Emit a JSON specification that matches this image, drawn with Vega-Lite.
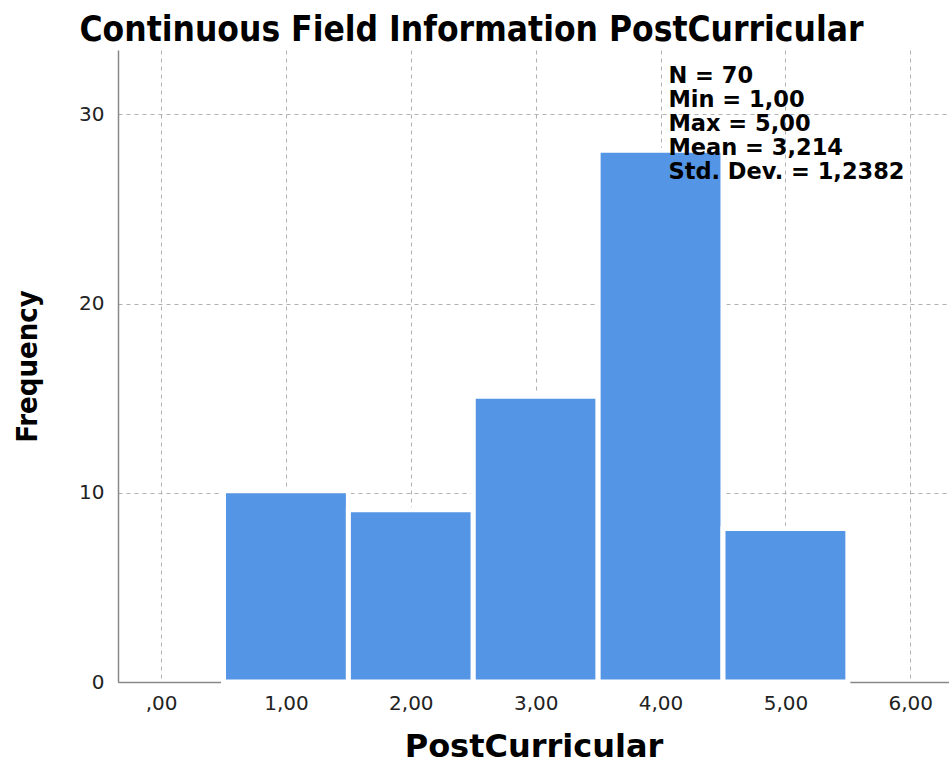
{
  "$schema": "https://vega.github.io/schema/vega-lite/v6.json",
  "autosize": "none",
  "padding": {"left": 118, "top": 50, "right": 0, "bottom": 84},
  "width": 831,
  "height": 632,
  "background": "white",
  "title": {
    "text": "Continuous Field Information PostCurricular",
    "font": "DejaVu Sans Condensed",
    "fontWeight": "bold",
    "fontSize": 35,
    "color": "#000000",
    "anchor": "middle",
    "frame": "group",
    "offset": 2,
    "dx": -62
  },
  "config": {
    "view": {"stroke": null},
    "axis": {
      "labelFont": "DejaVu Sans",
      "labelFontSize": 20,
      "labelColor": "#222222",
      "titleFont": "DejaVu Sans",
      "titleFontWeight": "bold",
      "titleColor": "#000000",
      "domainColor": "#888888",
      "domainWidth": 1.5,
      "ticks": false,
      "gridColor": "#b0b0b0",
      "gridDash": [4, 4],
      "gridWidth": 1
    }
  },
  "layer": [
    {
      "data": {
        "values": [
          {"bin_start": 0.5, "bin_end": 1.5, "count": 10},
          {"bin_start": 1.5, "bin_end": 2.5, "count": 9},
          {"bin_start": 2.5, "bin_end": 3.5, "count": 15},
          {"bin_start": 3.5, "bin_end": 4.5, "count": 28},
          {"bin_start": 4.5, "bin_end": 5.5, "count": 8}
        ]
      },
      "mark": {"type": "rect", "color": "#5595E5", "stroke": "white", "strokeWidth": 5, "yOffset": -2, "y2Offset": 1},
      "encoding": {
        "x": {
          "field": "bin_start",
          "type": "quantitative",
          "scale": {"domain": [-0.345, 6.31], "nice": false, "zero": false},
          "axis": {
            "values": [0, 1, 2, 3, 4, 5, 6],
            "labelExpr": "datum.value == 0 ? ',00' : replace(format(datum.value, '.2f'), '.', ',')",
            "labelPadding": 11,
            "title": "PostCurricular",
            "titleFontSize": 32,
            "titlePadding": 18,
            "grid": true
          }
        },
        "x2": {"field": "bin_end"},
        "y": {
          "field": "count",
          "type": "quantitative",
          "scale": {"domain": [0, 33.4], "nice": false},
          "axis": {
            "values": [0, 10, 20, 30],
            "labelPadding": 14,
            "title": "Frequency",
            "titleFont": "DejaVu Sans Condensed",
            "titleFontSize": 29,
            "titlePadding": 36,
            "grid": true
          }
        }
      }
    },
    {
      "data": {"values": [{"label": "N = 70\nMin = 1,00\nMax = 5,00\nMean = 3,214\nStd. Dev. = 1,2382"}]},
      "mark": {
        "type": "text",
        "align": "left",
        "baseline": "top",
        "font": "DejaVu Sans",
        "fontWeight": "bold",
        "fontSize": 22.5,
        "lineHeight": 24,
        "lineBreak": "\n",
        "color": "#000000"
      },
      "encoding": {
        "x": {"datum": 4.063, "type": "quantitative"},
        "y": {"datum": 32.6, "type": "quantitative"},
        "text": {"field": "label"}
      }
    }
  ]
}
